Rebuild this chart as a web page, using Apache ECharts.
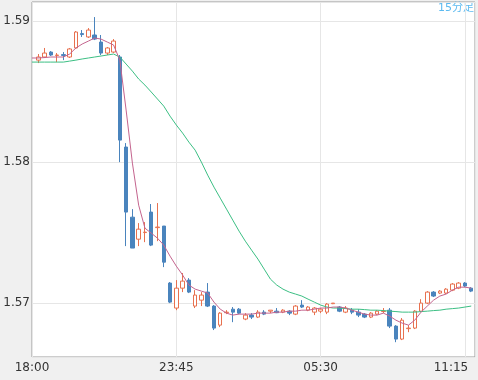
<!DOCTYPE html>
<html><head><meta charset="utf-8">
<script src="https://cdn.jsdelivr.net/npm/echarts@6/dist/echarts.min.js"></script>
<style>html,body{margin:0;padding:0;background:#f0f0f0;}#c{width:478px;height:380px;}</style>
</head><body><div id="c"></div>
<script>
// x positions: 15-minute bar index from 18:00
const tickIdx = [0, 23, 46, 69];
const tickLabels = ['18:00', '23:45', '05:30', '11:15'];
const yTicks = [1.57, 1.58, 1.59];
const periodLabel = '15分足';
const firstCandle = 1;
const opens = [
1.58723,1.58745,1.58780,1.58756,1.58762,1.58745,1.58809,1.58911,1.58887,1.58901,
1.58851,1.58773,1.58780,1.58745,1.58107,1.57610,1.57454,1.57501,1.57646,1.57536,
1.57547,1.57143,1.56966,1.57107,1.57164,1.56980,1.57022,1.57079,1.56980,1.56845,
1.56933,1.56958,1.56958,1.56888,1.56916,1.56902,1.56937,1.56944,1.56944,1.56937,
1.56944,1.56923,1.56987,1.56951,1.56937,1.56944,1.56937,1.56997,1.56973,1.56937,
1.56951,1.56937,1.56923,1.56902,1.56923,1.56941,1.56951,1.56838,1.56746,1.56820,
1.56824,1.56944,1.57001,1.57079,1.57072,1.57072,1.57093,1.57107,1.57143,1.57107];
const closes = [
1.58745,1.58773,1.58759,1.58759,1.58756,1.58802,1.58922,1.58904,1.58936,1.58872,
1.58773,1.58809,1.58858,1.58156,1.57646,1.57391,1.57525,1.57504,1.57412,1.57540,
1.57291,1.57008,1.57107,1.57157,1.57079,1.57058,1.57058,1.56980,1.56824,1.56930,
1.56937,1.56937,1.56930,1.56916,1.56902,1.56937,1.56923,1.56951,1.56933,1.56951,
1.56930,1.56980,1.56973,1.56973,1.56966,1.56958,1.56994,1.57001,1.56944,1.56966,
1.56937,1.56916,1.56902,1.56930,1.56944,1.56944,1.56838,1.56746,1.56880,1.56824,
1.56944,1.57001,1.57079,1.57051,1.57086,1.57100,1.57136,1.57143,1.57122,1.57086];
const lows = [
1.58702,1.58738,1.58752,1.58709,1.58723,1.58738,1.58802,1.58887,1.58880,1.58865,
1.58759,1.58759,1.58773,1.58000,1.57405,1.57391,1.57405,1.57433,1.57405,1.57440,
1.57256,1.57001,1.56951,1.57079,1.57072,1.56966,1.56980,1.56973,1.56810,1.56831,
1.56923,1.56866,1.56923,1.56880,1.56888,1.56895,1.56916,1.56930,1.56930,1.56930,
1.56916,1.56916,1.56966,1.56944,1.56916,1.56930,1.56923,1.56994,1.56937,1.56930,
1.56923,1.56902,1.56895,1.56895,1.56916,1.56930,1.56824,1.56724,1.56739,1.56795,
1.56817,1.56937,1.56994,1.57044,1.57065,1.57065,1.57086,1.57100,1.57114,1.57079];
const highs = [
1.58766,1.58809,1.58787,1.58773,1.58780,1.58809,1.58929,1.58936,1.58950,1.59028,
1.58901,1.58816,1.58872,1.58759,1.58135,1.57667,1.57568,1.57575,1.57703,1.57710,
1.57547,1.57150,1.57164,1.57214,1.57178,1.57093,1.57079,1.57143,1.56987,1.56937,
1.56951,1.56973,1.56966,1.56930,1.56930,1.56951,1.56951,1.56951,1.56966,1.56958,
1.56951,1.56987,1.57022,1.56980,1.56973,1.56966,1.57001,1.57001,1.56980,1.56980,
1.56966,1.56958,1.56930,1.56937,1.56951,1.56966,1.56966,1.56845,1.56895,1.56845,
1.56951,1.57029,1.57086,1.57086,1.57093,1.57107,1.57143,1.57150,1.57150,1.57114];
const maFast = [
1.58738,1.58738,1.58741,1.58745,1.58745,1.58745,1.58766,1.58809,1.58837,1.58858,
1.58880,1.58872,1.58851,1.58830,1.58723,1.58369,1.57993,1.57695,1.57532,1.57497,
1.57461,1.57412,1.57334,1.57263,1.57200,1.57129,1.57100,1.57086,1.57072,1.57008,
1.56958,1.56930,1.56916,1.56923,1.56923,1.56923,1.56930,1.56930,1.56930,1.56937,
1.56937,1.56944,1.56944,1.56951,1.56951,1.56958,1.56966,1.56966,1.56973,1.56973,
1.56966,1.56951,1.56937,1.56923,1.56916,1.56916,1.56930,1.56909,1.56880,1.56859,
1.56845,1.56880,1.56937,1.56980,1.57022,1.57051,1.57065,1.57093,1.57114,1.57114,
1.57107];
const maSlow = [
1.58709,1.58709,1.58709,1.58709,1.58709,1.58709,1.58716,1.58723,1.58731,1.58738,
1.58745,1.58752,1.58759,1.58766,1.58745,1.58695,1.58645,1.58589,1.58546,1.58497,
1.58447,1.58397,1.58326,1.58263,1.58206,1.58142,1.58085,1.58000,1.57908,1.57823,
1.57745,1.57667,1.57589,1.57511,1.57440,1.57376,1.57313,1.57242,1.57171,1.57129,
1.57100,1.57079,1.57065,1.57051,1.57029,1.57008,1.56987,1.56973,1.56966,1.56966,
1.56962,1.56958,1.56958,1.56955,1.56951,1.56951,1.56948,1.56944,1.56941,1.56937,
1.56937,1.56937,1.56941,1.56944,1.56948,1.56951,1.56958,1.56962,1.56966,1.56973,
1.56980];

const candleData = opens.map((o, k) => [k + firstCandle, o, closes[k], lows[k], highs[k]]);
const fastData = maFast.map((v, i) => [i, v]);
const slowData = maSlow.map((v, i) => [i, v]);

const chart = echarts.init(document.getElementById('c'), null, {renderer: 'canvas'});
const FONT = 'DejaVu Sans';
chart.setOption({
  animation: false,
  backgroundColor: '#f0f0f0',
  grid: {left: 32, top: 2, right: 3, bottom: 23, show: true, backgroundColor: '#ffffff', borderColor: '#9a9a9a', borderWidth: 1},
  xAxis: {
    type: 'value', min: 0, max: 70.6, interval: 23,
    axisLine: {show: false}, axisTick: {show: false},
    splitLine: {show: true, lineStyle: {color: '#e6e6e6', width: 1}},
    axisLabel: {
      margin: 5, color: '#333', fontSize: 12, fontFamily: FONT,
      showMinLabel: true, showMaxLabel: false,
      formatter: function (v) {
        const k = tickIdx.indexOf(Math.round(v));
        if (k < 0 || Math.abs(v - tickIdx[k]) > 1e-6) return '';
        return k === tickIdx.length - 1 ? '{r|' + tickLabels[k] + '}' : tickLabels[k];
      },
      rich: {r: {padding: [0, 28, 0, 0], color: '#333', fontSize: 12, fontFamily: FONT}}
    }
  },
  yAxis: {
    type: 'value', min: 1.566191, max: 1.591348, splitNumber: 3, minInterval: 0.01, maxInterval: 0.01,
    axisLine: {show: false}, axisTick: {show: false},
    splitLine: {show: true, lineStyle: {color: '#e6e6e6', width: 1}},
    axisLabel: {
      margin: 2, color: '#333', fontSize: 12, fontFamily: FONT, showMinLabel: false, showMaxLabel: false,
      formatter: function (v) {
        for (const t of yTicks) if (Math.abs(v - t) < 1e-7) return t.toFixed(2);
        return '';
      }
    }
  },
  series: [
    {
      type: 'candlestick', data: candleData, barWidth: 4,
      encode: {x: 0, y: [1, 2, 3, 4]},
      itemStyle: {color: '#ffffff', color0: '#4a84bd', borderColor: '#e8714f', borderColor0: '#4a84bd', borderWidth: 1}
    },
    {type: 'line', data: slowData, symbol: 'none', lineStyle: {color: '#3cbf84', width: 1}, z: 3},
    {type: 'line', data: fastData, symbol: 'none', lineStyle: {color: '#c4648e', width: 1}, z: 4}
  ],
  graphic: [{
    type: 'text', right: 4, top: 3,
    style: {text: periodLabel, fill: '#5cbaf0', fontSize: 11, fontFamily: 'DejaVu Sans, Noto Sans CJK JP'}
  }]
});
</script></body></html>
